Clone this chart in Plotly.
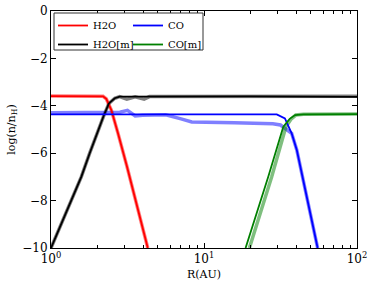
import plotly.graph_objects as go

# ---- data (R in AU, values are log10(n/nH)) ----
h2o_R = [1.0, 2.19, 2.30, 2.48, 2.74, 3.14, 4.29]
h2o_v = [-3.59, -3.60, -3.71, -4.18, -5.16, -6.57, -10.0]

h2om_R = [1.0, 1.17, 1.37, 1.58, 1.79, 2.03, 2.22, 2.39, 2.61, 2.81, 5.0, 20.0, 100.0]
h2om_v = [-10.0, -8.96, -7.97, -6.99, -6.0, -5.02, -4.39, -3.90, -3.68, -3.61, -3.60, -3.60, -3.62]

h2om_lt_R = [1.0, 1.17, 1.37, 1.58, 1.79, 2.03, 2.22, 2.39, 2.61, 2.81, 3.13, 3.55, 4.06, 4.40, 100.0]
h2om_lt_v = [-10.0, -8.96, -7.97, -6.99, -6.0, -5.02, -4.39, -3.90, -3.68, -3.61, -3.72, -3.62, -3.72, -3.61, -3.60]

co_R = [1.0, 29.9, 33.8, 37.4, 40.4, 55.3]
co_v = [-4.36, -4.36, -4.53, -5.16, -5.86, -10.0]

co_lt_R = [1.0, 2.82, 3.16, 3.55, 3.98, 5.62, 7.08, 8.32, 15.8, 28.2, 31.6, 33.9, 37.4, 40.4, 55.3]
co_lt_v = [-4.29, -4.27, -4.19, -4.43, -4.40, -4.38, -4.55, -4.68, -4.72, -4.76, -4.81, -4.95, -5.16, -5.86, -10.0]

com_R = [18.7, 26.3, 33.0, 36.3, 39.4, 44.7, 100.0]
com_v = [-10.0, -6.99, -4.88, -4.55, -4.39, -4.36, -4.35]

com_lt_R = [19.8, 27.7, 34.3, 37.2, 39.8, 44.7, 100.0]
com_lt_v = [-10.0, -6.99, -4.88, -4.55, -4.39, -4.36, -4.35]

x_tickvals = [1, 10, 100]
x_ticktext = ["10<sup>0</sup>", "10<sup>1</sup>", "10<sup>2</sup>"]
x_minor = [2, 3, 4, 5, 6, 7, 8, 9, 20, 30, 40, 50, 60, 70, 80, 90]
y_tickvals = [-10, -8, -6, -4, -2, 0]

FONT = "DejaVu Serif"
RED, BLACK, BLUE, GREEN = "#ff0000", "#000000", "#0000ff", "#008000"
RED_LT, BLACK_LT, BLUE_LT, GREEN_LT = ("rgba(255,0,0,0.5)", "rgba(0,0,0,0.5)",
                                       "rgba(0,0,255,0.5)", "rgba(0,128,0,0.5)")
W_DARK, W_LT = 1.8, 3.5

fig = go.Figure()
# light (model) curves behind
fig.add_trace(go.Scatter(x=h2o_R, y=h2o_v, mode="lines", line=dict(color=RED_LT, width=W_LT), showlegend=False, hoverinfo="skip"))
fig.add_trace(go.Scatter(x=h2om_lt_R, y=h2om_lt_v, mode="lines", line=dict(color=BLACK_LT, width=W_LT), showlegend=False, hoverinfo="skip"))
fig.add_trace(go.Scatter(x=co_lt_R, y=co_lt_v, mode="lines", line=dict(color=BLUE_LT, width=W_LT), showlegend=False, hoverinfo="skip"))
fig.add_trace(go.Scatter(x=com_lt_R, y=com_lt_v, mode="lines", line=dict(color=GREEN_LT, width=W_LT), showlegend=False, hoverinfo="skip"))
# dark curves
fig.add_trace(go.Scatter(x=h2o_R, y=h2o_v, mode="lines", name="H2O", line=dict(color=RED, width=W_DARK), legend="legend"))
fig.add_trace(go.Scatter(x=h2om_R, y=h2om_v, mode="lines", name="H2O[m]", line=dict(color=BLACK, width=W_DARK), legend="legend"))
fig.add_trace(go.Scatter(x=co_R, y=co_v, mode="lines", name="CO", line=dict(color=BLUE, width=W_DARK), legend="legend2"))
fig.add_trace(go.Scatter(x=com_R, y=com_v, mode="lines", name="CO[m]", line=dict(color=GREEN, width=W_DARK), legend="legend2"))

# body margin is removed in the page (post_script), so the figure fills the window
L, R_, T, B = 51, 17, 11, 38
W, H = 374, 286
pw, ph = W - L - R_, H - T - B

def px2x(px):
    return (px - L) / pw

def py2y(py):
    return (H - B - py) / ph

leg_common = dict(yanchor="top", xanchor="left", bgcolor="rgba(0,0,0,0)", borderwidth=0,
                  font=dict(family=FONT, size=10, color="black"), tracegroupgap=0, itemwidth=30)

axis_common = dict(showline=True, linecolor="black", linewidth=1, mirror="allticks",
                   ticks="inside", ticklen=5, tickcolor="black", showgrid=False, zeroline=False,
                   ticklabeloverflow="allow",
                   tickfont=dict(family=FONT, size=12, color="black"))

fig.update_layout(
    width=W, height=H,
    margin=dict(l=L, r=R_, t=T, b=B, pad=0),
    paper_bgcolor="white", plot_bgcolor="white",
    font=dict(family=FONT, color="black"),
    xaxis=dict(type="log", range=[0, 2], tickvals=x_tickvals, ticktext=x_ticktext,
               minor=dict(tickvals=x_minor, ticks="inside", ticklen=3, tickcolor="black"),
               title=dict(text="R(AU)", font=dict(family=FONT, size=11), standoff=4),
               automargin=False, **axis_common),
    yaxis=dict(range=[-10, 0], tickvals=y_tickvals,
               title=dict(text="log(n/n<sub>H</sub>)", font=dict(family=FONT, size=11), standoff=4),
               automargin=False, **axis_common),
    legend=dict(x=px2x(53), y=py2y(11), **leg_common),
    legend2=dict(x=px2x(128), y=py2y(11), **leg_common),
    shapes=[dict(type="rect", xref="paper", yref="paper",
                 x0=px2x(54), x1=px2x(203), y0=py2y(50), y1=py2y(13),
                 line=dict(color="#333333", width=1), fillcolor="white", layer="above")],
    showlegend=True,
)

fig.write_html("out.html", config={"displayModeBar": False},
               post_script="document.body.style.margin='0px';")
